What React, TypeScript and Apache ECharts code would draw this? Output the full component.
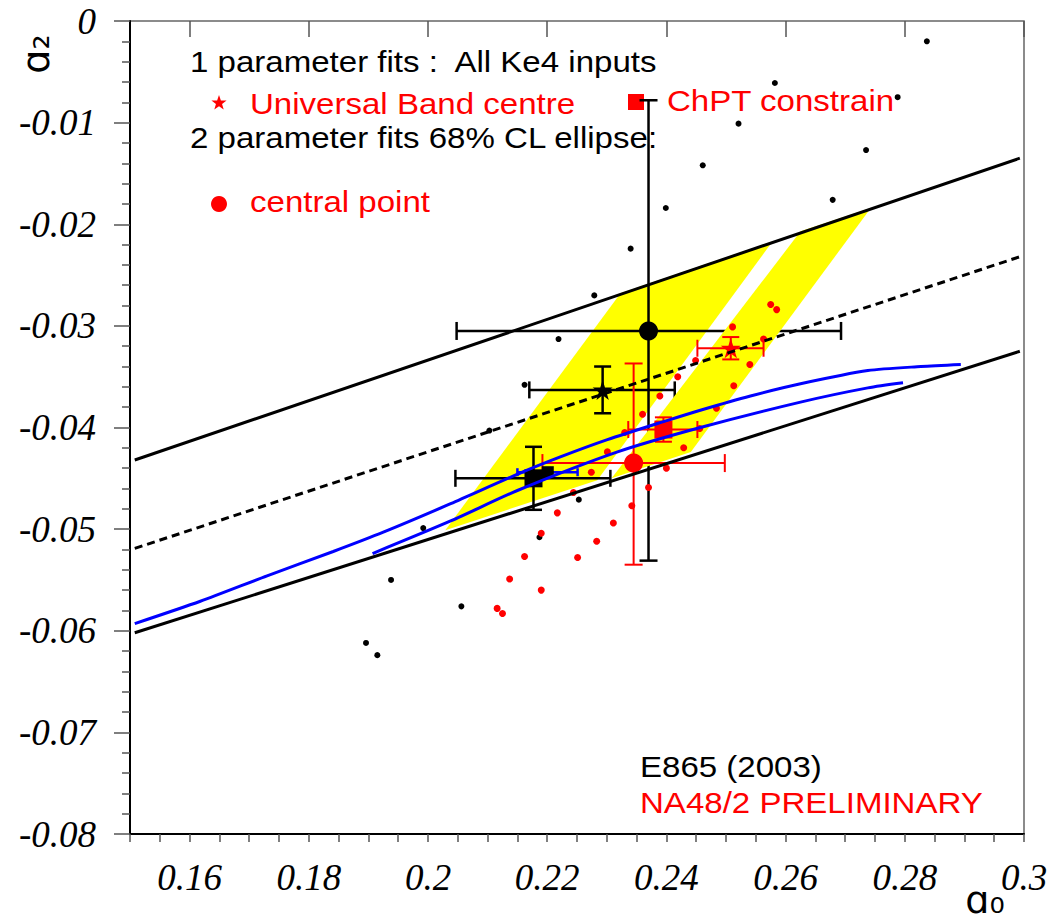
import React, { useEffect, useRef } from 'react';
import * as echarts from 'echarts';

// ---- data (a0, a2) ----
const xMajorTicks = [0.16, 0.18, 0.2, 0.22, 0.24, 0.26, 0.28, 0.3];

const upperLine = [[0.1508, -0.0432], [0.2993, -0.0135]];
const lowerLine = [[0.1508, -0.0602], [0.2993, -0.0325]];
const dashedLine = [[0.1508, -0.0519], [0.2993, -0.0232]];

const blueOuter = [
  [0.1508, -0.0593], [0.1618, -0.0571], [0.173, -0.0546], [0.1841, -0.0522], [0.1925, -0.0503],
  [0.2038, -0.0475], [0.215, -0.0446], [0.2222, -0.0429], [0.2301, -0.0412], [0.2402, -0.0393],
  [0.2457, -0.0383], [0.2541, -0.0369], [0.2625, -0.0357], [0.2738, -0.0344], [0.2827, -0.034],
  [0.2894, -0.0338],
];
const blueInner = [
  [0.1907, -0.0524], [0.2038, -0.0492], [0.215, -0.0462], [0.2318, -0.0424], [0.2457, -0.04],
  [0.2625, -0.0375], [0.2738, -0.0361], [0.2797, -0.0356],
];

const bandLeft = [[0.2029, -0.0501], [0.2284, -0.0452], [0.2578, -0.0217], [0.2323, -0.0268]];
const bandRight = [[0.2308, -0.045], [0.2441, -0.0424], [0.2743, -0.0184], [0.2625, -0.0207]];

const blackDots = [
  [0.2837, -0.002], [0.2582, -0.0061], [0.2788, -0.0075], [0.2521, -0.0101], [0.2735, -0.0127],
  [0.2461, -0.0142], [0.2399, -0.0184], [0.2679, -0.0176], [0.234, -0.0224], [0.2279, -0.027],
  [0.2219, -0.0313], [0.2162, -0.0358], [0.2103, -0.0403], [0.1992, -0.0499], [0.1938, -0.055],
  [0.1896, -0.0612], [0.1915, -0.0624], [0.2056, -0.0576], [0.2187, -0.0508], [0.2253, -0.0471],
];
const redDots = [
  [0.2575, -0.0279], [0.2585, -0.0284], [0.2511, -0.0301], [0.2563, -0.0313], [0.2449, -0.0334],
  [0.254, -0.0338], [0.2419, -0.035], [0.2513, -0.0359], [0.2389, -0.0369], [0.2484, -0.0381],
  [0.236, -0.0387], [0.2456, -0.0401], [0.233, -0.0405], [0.2429, -0.042], [0.2301, -0.0424],
  [0.24, -0.044], [0.2274, -0.0444], [0.237, -0.0459], [0.2244, -0.0464], [0.2342, -0.0477],
  [0.2217, -0.0484], [0.2311, -0.0494], [0.219, -0.0504], [0.2283, -0.0512], [0.2162, -0.0527],
  [0.2251, -0.0528], [0.2137, -0.0549], [0.219, -0.056], [0.2116, -0.0578], [0.2125, -0.0583],
];

// [x, y, xLow, xHigh, yLow, yHigh]
const blackCircle = [[0.237, -0.0305, 0.2048, 0.2693, -0.0531, -0.0078]];
const blackStar = [[0.2293, -0.0363, 0.217, 0.2414, -0.0386, -0.034]];
const blackSquare = [[0.2177, -0.045, 0.2046, 0.2306, -0.0481, -0.0419]];
const blackSmallSquare = [[0.2201, -0.0444, 0.215, 0.2251, -0.0444, -0.0444]];
const redCircle = [[0.2345, -0.0435, 0.2192, 0.2498, -0.0535, -0.0337]];
const redSquare = [[0.2395, -0.0402, 0.2336, 0.2452, -0.0414, -0.039]];
const redStar = [[0.2508, -0.0322, 0.2452, 0.2563, -0.0333, -0.0311]];

const STAR = 'path://M50,0 L61.2,34.5 L97.6,34.5 L68.2,55.9 L79.4,90.5 L50,69.1 L20.6,90.5 L31.8,55.9 L2.4,34.5 L38.8,34.5 Z';
const RED = '#ff0000';
const TEXT_FONT = '"Liberation Sans", Arial, Helvetica, sans-serif';
const TICK_FONT = '"Liberation Serif", "Times New Roman", serif';

function errorBars(data: number[][], color: string, lw: number, cap: number) {
  return {
    type: 'custom',
    silent: true,
    data,
    encode: { x: [0, 2, 3], y: [1, 4, 5] },
    renderItem: (params: any, api: any) => {
      const x = api.value(0), y = api.value(1);
      const xl = api.value(2), xh = api.value(3), yl = api.value(4), yh = api.value(5);
      const st = { stroke: color, lineWidth: lw, fill: null };
      const h = cap / 2;
      const children: any[] = [];
      const pL = api.coord([xl, y]);
      const pR = api.coord([xh, y]);
      children.push({ type: 'line', shape: { x1: pL[0], y1: pL[1], x2: pR[0], y2: pR[1] }, style: st });
      children.push({ type: 'line', shape: { x1: pL[0], y1: pL[1] - h, x2: pL[0], y2: pL[1] + h }, style: st });
      children.push({ type: 'line', shape: { x1: pR[0], y1: pR[1] - h, x2: pR[0], y2: pR[1] + h }, style: st });
      if (yl !== yh) {
        const pB = api.coord([x, yl]);
        const pT = api.coord([x, yh]);
        children.push({ type: 'line', shape: { x1: pB[0], y1: pB[1], x2: pT[0], y2: pT[1] }, style: st });
        children.push({ type: 'line', shape: { x1: pB[0] - h, y1: pB[1], x2: pB[0] + h, y2: pB[1] }, style: st });
        children.push({ type: 'line', shape: { x1: pT[0] - h, y1: pT[1], x2: pT[0] + h, y2: pT[1] }, style: st });
      }
      return { type: 'group', children };
    },
  };
}

function band(pts: number[][]) {
  return {
    type: 'custom',
    silent: true,
    data: [pts[0]],
    renderItem: (params: any, api: any) => ({
      type: 'polygon',
      shape: { points: pts.map((p) => api.coord(p)) },
      style: { fill: '#ffff00' },
    }),
  };
}

function line(data: number[][], color: string, width: number, type: any = 'solid', smooth: any = false) {
  return {
    type: 'line',
    silent: true,
    data,
    showSymbol: false,
    symbol: 'none',
    smooth,
    lineStyle: { color, width, type },
  };
}

function marker(data: number[][], symbol: string, size: number, color: string) {
  return {
    type: 'scatter',
    silent: true,
    data: data.map((d) => [d[0], d[1]]),
    symbol,
    symbolSize: size,
    itemStyle: { color, opacity: 1 },
  };
}

function starPts(cx: number, cy: number, r: number) {
  const pts: number[][] = [];
  for (let i = 0; i < 10; i++) {
    const rr = i % 2 === 0 ? r : r * 0.4;
    const a = -Math.PI / 2 + (i * Math.PI) / 5;
    pts.push([cx + rr * Math.cos(a), cy + rr * Math.sin(a)]);
  }
  return pts;
}

function txt(text: string, x: number, y: number, color: string) {
  return {
    type: 'text',
    x,
    y,
    scaleX: 1.14,
    silent: true,
    style: { text, fill: color, fontSize: 29, fontFamily: TEXT_FONT, align: 'left', verticalAlign: 'middle' },
  };
}

export default function App() {
  const ref = useRef<HTMLDivElement>(null);
  useEffect(() => {
    const chart = echarts.init(ref.current!, null, { renderer: 'svg' });
    const tickLabelStyle = { fontFamily: TICK_FONT, fontStyle: 'italic', fontSize: 37, color: '#000' };
    chart.setOption({
      animation: false,
      backgroundColor: '#fff',
      grid: { left: 130, right: 28, top: 21, bottom: 90, show: true, borderColor: '#666', borderWidth: 1.5, backgroundColor: 'transparent' },
      xAxis: [
        {
          type: 'value', min: 0.15, max: 0.3, interval: 0.005, position: 'bottom',
          axisLine: { show: true, onZero: false, lineStyle: { color: '#000', width: 2 } },
          axisTick: { show: true, length: 8, lineStyle: { color: '#555', width: 1.5 } },
          splitLine: { show: false },
          axisLabel: {
            ...tickLabelStyle, margin: 25, showMinLabel: true, showMaxLabel: true,
            formatter: (v: number) => {
              const k = Math.round(v * 100);
              if (Math.abs(v * 100 - k) > 1e-6 || k % 2 !== 0) return '';
              return String(+v.toFixed(2));
            },
          },
        },
        {
          type: 'value', min: 0.15, max: 0.3, interval: 0.005, position: 'bottom',
          axisLine: { show: false },
          axisTick: { show: true, length: 16, customValues: xMajorTicks, lineStyle: { color: '#555', width: 1.5 } },
          axisLabel: { show: false },
          splitLine: { show: false },
        },
      ],
      yAxis: {
        type: 'value', min: -0.08, max: 0, interval: 0.01,
        axisLine: { show: true, onZero: false, lineStyle: { color: '#000', width: 2 } },
        axisTick: { show: true, length: 16, lineStyle: { color: '#555', width: 1.5 } },
        minorTick: { show: true, splitNumber: 5, length: 8, lineStyle: { color: '#555', width: 1.5 } },
        splitLine: { show: false },
        minorSplitLine: { show: false },
        axisLabel: {
          ...tickLabelStyle, margin: 34,
          formatter: (v: number) => {
            const r = Math.round(v * 100) / 100;
            return r === 0 ? '0' : String(r);
          },
        },
      },
      series: [
        band(bandLeft),
        line(dashedLine, '#000', 3, [8, 5]),
        line(blueOuter, '#0000ff', 3, 'solid', 0.25),
        line(blueInner, '#0000ff', 3, 'solid', 0.25),
        marker(blackDots, 'circle', 6, '#000'),
        errorBars(blackCircle, '#000', 2.5, 18),
        errorBars(blackStar, '#000', 2.5, 17),
        errorBars(blackSquare, '#000', 2.5, 17),
        errorBars(blackSmallSquare, '#0000ff', 2.5, 8),
        marker(blackCircle, 'circle', 19, '#000'),
        marker(blackStar, STAR, 20, '#000'),
        marker(blackSquare, 'rect', 18, '#000'),
        marker(blackSmallSquare, 'rect', 12, '#000'),
        band(bandRight),
        line(upperLine, '#000', 3),
        line(lowerLine, '#000', 3),
        marker(redDots, 'circle', 7, RED),
        errorBars(redCircle, RED, 2, 18),
        errorBars(redSquare, RED, 2, 17),
        errorBars(redStar, RED, 2, 17),
        marker(redCircle, 'circle', 19, RED),
        marker(redSquare, 'rect', 18, RED),
        marker(redStar, STAR, 20, RED),
      ],
      graphic: [
        txt('1 parameter fits :  All Ke4 inputs', 190, 62, '#000'),
        { type: 'polygon', silent: true, shape: { points: starPts(219, 103, 8) }, style: { fill: RED } },
        txt('Universal Band centre', 250, 104, RED),
        { type: 'rect', silent: true, shape: { x: 628, y: 94, width: 16, height: 16 }, style: { fill: RED } },
        txt('ChPT constrain', 667, 101, RED),
        txt('2 parameter fits 68% CL ellipse:', 190, 138, '#000'),
        { type: 'circle', silent: true, shape: { cx: 219, cy: 204, r: 8 }, style: { fill: RED } },
        txt('central point', 250, 202, RED),
        txt('E865 (2003)', 640, 767, '#000'),
        txt('NA48/2 PRELIMINARY', 640, 803, RED),
        {
          type: 'text', x: 36, y: 54, rotation: Math.PI / 2, silent: true,
          style: { text: 'ɑ₂', fill: '#000', fontSize: 38, fontFamily: '"DejaVu Sans", sans-serif', align: 'center', verticalAlign: 'middle' },
        },
        {
          type: 'text', x: 985, y: 900, silent: true,
          style: { text: 'ɑ₀', fill: '#000', fontSize: 38, fontFamily: '"DejaVu Sans", sans-serif', align: 'center', verticalAlign: 'middle' },
        },
      ],
    });
    return () => chart.dispose();
  }, []);
  return <div ref={ref} style={{ position: 'absolute', left: 0, top: 0, width: 1052, height: 924 }} />;
}
